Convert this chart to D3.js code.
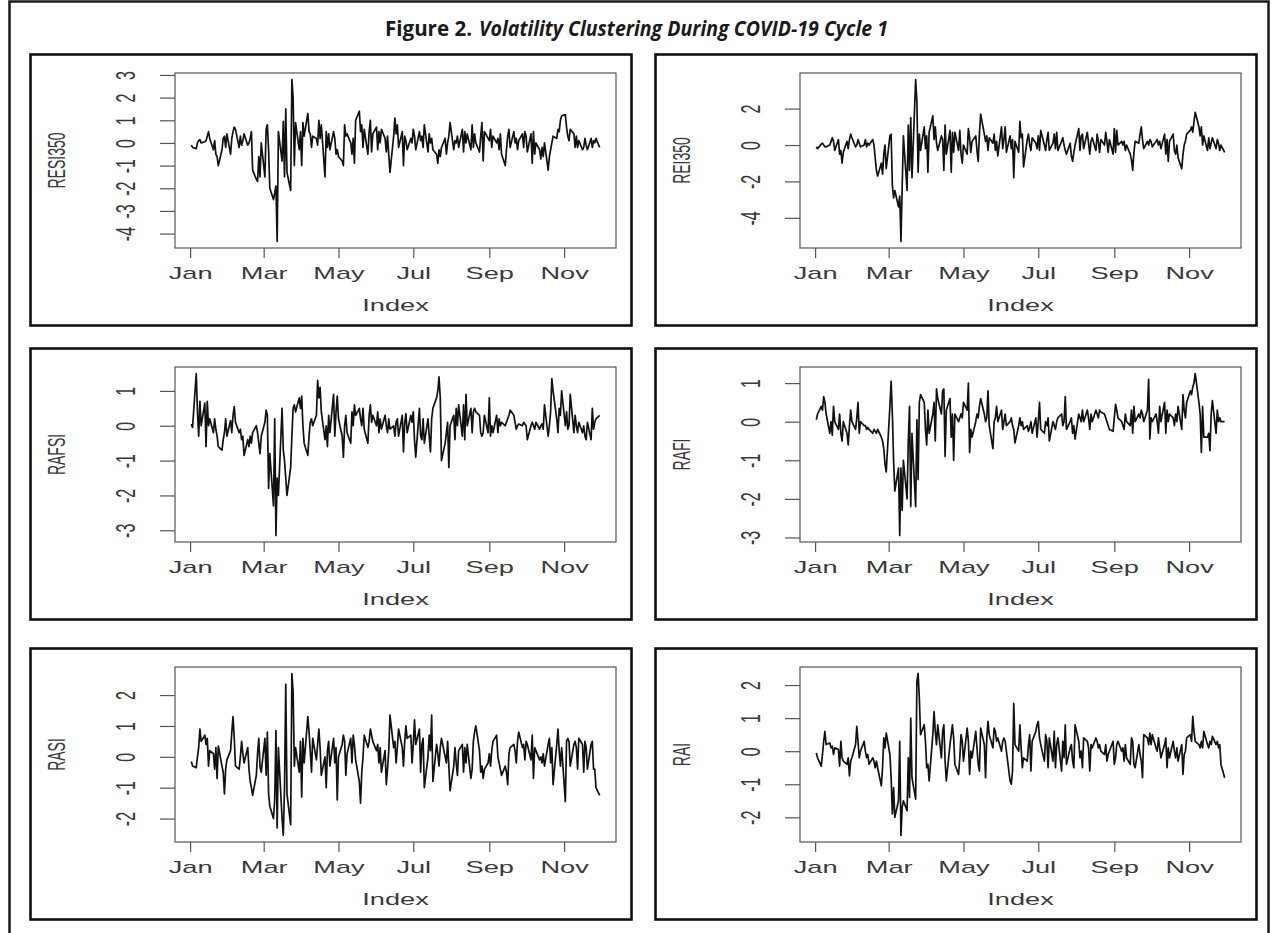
<!DOCTYPE html>
<html>
<head>
<meta charset="utf-8">
<script src="https://cdn.jsdelivr.net/npm/d3@7"></script>
<style>
  body { margin: 0; background: #fff; }
  svg text { font-family: "Liberation Sans", Arial, sans-serif; fill: #3a3a3a; }
</style>
</head>
<body>
<svg id="fig" width="1273" height="933"></svg>
<script>
// figure text
const figureLabel = 'Figure 2.'
const figureTitle = 'Volatility Clustering During COVID-19 Cycle 1'
const seriesNames = ['RESI350', 'REI350', 'RAFSI', 'RAFI', 'RASI', 'RAI']
const monthTicks = ['Jan', 'Mar', 'May', 'Jul', 'Sep', 'Nov']
const firstTradingDay = '2020-01-02'

// y tick labels per panel
const ticksResi350 = [-4, -3, -2, -1, 0, 1, 2, 3]
const ticksRei350 = [-4, -2, 0, 2]
const ticksRafsi = [-3, -2, -1, 0, 1]
const ticksRafi = [-3, -2, -1, 0, 1]
const ticksRasi = [-2, -1, 0, 1, 2]
const ticksRai = [-2, -1, 0, 1, 2]

// daily returns (one value per trading day)
const resi350 = [
  -0.1, -0.2, -0.25, 0.0, 0.1, 0.15, 0.0, 0.05, 0.1, 0.3, 0.5, 0.2, -0.3, 0.1, -0.5, -0.6, -1.0, -0.3, 0.2,
  0.3, -0.2, 0.4, -0.5, 0.2, 0.5, 0.7, 0.6, -0.2, 0.3, -0.1, 0.1, 0.4, -0.1, 0.0, 0.2, 0.5,
  -1.2, -1.6, -1.7, -0.6, -1.5, 0.0, -1.5,
  0.6, 0.8, -0.3,
  -2.0, -2.5, -2.2, -1.9, -4.35,
  0.5, -0.8, 0.95, -1.5, 1.5, -1.3, -2.1, 2.8, 2.0, -1.0,
  0.9, -0.3, 0.5, -1.0, 0.9, 0.3, 1.3, 0.5, 0.4, -0.2, 0.3, 0.2, -0.1, 1.0, 0.2, 0.8, -1.5, 0.5, -0.2, 0.4, -0.3, 0.5, 0.2, -0.5,
  -0.3, -0.6, -0.8, -1.0, 0.8, 0.3, 0.4, 0.0, -0.5, 0.2, -0.9, 1.0, 1.4, 0.5, 0.8, -0.2, 0.6, -0.5, 0.5, 1.0, -0.4, 0.4,
  0.7, -0.3, 0.5, 0.0, 0.6, 0.2, -0.4, 0.3, -0.5, -1.3, 0.3, 1.1, 0.4, 0.8, -0.2, 0.5, -1.0, 0.3, 0.1, -0.3, 0.2, 0.0,
  0.6, 0.3, -0.3, 0.5, 0.1, 0.3, -0.2, 0.8, -0.4, 0.4, 0.0, 0.2, -0.3, -0.5, -0.9, -0.3, -0.6, -0.2, 0.2, -0.5, 0.0, 0.3,
  0.9, -0.3, 0.1, 0.0, 0.3, -0.2, 0.6, -0.4, 0.5, 0.0, 0.4, -0.3, 0.8, -0.2, 0.4, 0.0, -0.4, 0.3, 0.9, -0.8, 0.5, 0.2,
  0.1, 0.6, -0.2, 0.3, 0.0, 0.2, -0.3, 0.4, -0.5, -1.0, -0.3, 0.3, 0.6, -0.2, 0.5, 0.0, 0.2, -0.3, 0.1, 0.4, -0.2, 0.5,
  0.3, -0.4, 0.4, -0.9, 0.5, -0.5, 0.0, -0.3, -0.7, -0.2, -0.6, 0.0, -1.2, -0.6, -0.3, 0.0, 0.3, 0.2, 0.6, 0.5, 1.0, 1.2,
  1.25, 0.7, 0.3, 0.1, 0.6, 0.4, -0.2, 0.3, -0.2, 0.1, -0.3, -0.2, 0.2, -0.1, -0.3, 0.2, -0.2, 0.1, 0.0, 0.2, -0.2
]

const rei350 = [
  -0.1, -0.2, 0.05, 0.1, 0.0, -0.1, -0.1, 0.0, 0.2, 0.4, 0.2, -0.3, 0.3, -0.5, -0.3, -1.0, -0.4, 0.2, -0.2, 0.3,
  0.6, 0.4, -0.1, 0.0, 0.3, 0.1, -0.1, 0.0, 0.3, -0.1, 0.1, 0.0, 0.3, 0.0,
  -0.7, -1.4, -1.7, -1.0, -1.6, -0.5, 0.0, -1.3, 0.5,
  0.6, -2.2, -2.9, -2.5, -3.4, -2.8, -5.3,
  -2.3, 0.5, -2.5, 1.1, -1.4, 1.5, -1.8, 3.6, 2.4, -1.5,
  0.6, -0.3, 1.0, -0.2, 0.5, -1.5, 0.7, 1.6, 0.3, 1.0, 0.1, -0.3, 0.5, 0.3, -1.4, 1.1, -0.5, 0.8, -1.5, 0.7, -0.4, 0.7, -0.3, 0.8, -0.5, -1.0, 0.0, -0.5, 0.9,
  0.4, -0.4, 0.2, 0.5, -0.3, -0.9, 0.6, 1.7, 0.6, 0.2, 0.5, -0.3, 0.4, 0.1, 0.6, -0.3, 0.2, -0.6, 1.0, -0.2, 0.3, 1.0,
  -0.4, 0.5, -0.2, 0.3, -1.8, 0.2, -0.4, 1.3, 0.4, 0.6, -1.2, 0.3, 0.6, 0.0, -0.3, 0.4, 0.1, -0.2, 0.5, -0.3, 0.8, 0.0, -0.3,
  0.3, 0.7, -0.3, 0.1, 0.6, -0.2, 0.7, -0.3, 0.2, 0.4, 0.0, -0.3, -0.5, 0.1, -0.6, -0.9, -0.4, 0.0, 0.9, -0.3, 0.5, 0.6, -0.2,
  0.7, 0.1, -0.5, 0.2, 0.4, -0.3, 0.6, 0.2, -0.4, 0.3, 0.0, 0.7, 0.2, -0.4, 0.3, -0.5, 0.9, -0.4, 0.8, 0.0, 0.2, 0.0,
  0.2, -0.3, 0.0, -0.5, -0.8, -1.4, -0.4, 0.2, 0.1, 0.6, 1.0, 0.3, -0.2, 0.2, 0.0, 0.3, 0.2, -0.1, 0.2, 0.3, 0.0, 0.2, -0.2,
  0.6, -0.5, 0.3, -0.9, 0.2, 0.6, -0.3, -0.5, 0.0, -0.7, -1.3, -0.5, 0.0, 0.2, 0.6, 0.8, 1.0, 0.7, 1.3, 1.8, 1.0, 0.5, 1.0,
  0.0, 0.5, -0.3, 0.4, -0.2, 0.1, 0.4, -0.2, 0.3, 0.1, -0.3, 0.0, -0.4
]

const rafsi = [
  0.05, -0.05, 1.5, 0.4, -0.3, 0.7, 0.0, 0.65, -0.6, 0.7, 0.0, 0.2, -0.2, 0.2, -0.1, -0.3, -0.6, -0.7, -0.4, -0.2, 0.2, -0.3,
  0.15, -0.2, 0.3, 0.55, 0.1, -0.2, -0.1, -0.4, -0.3, -0.85, -0.4, -0.6, -0.3, -0.5, -0.2, 0.0, -0.2, -0.5, -0.8, -0.3, 0.1, 0.45,
  0.3, -1.8, -0.8, -2.3, 0.2, -3.15, -1.5, -2.0, 0.5, -0.7, -1.0, -1.5, -2.0, -1.2,
  -0.3, 0.5, 0.6, 0.4, 0.8, 0.5, 0.85, 0.0, -0.5, -0.85, -0.3, 0.1, 0.2, 0.0, 0.3, 1.3, 0.8, 1.1, 0.4, -0.4, 0.0, -0.6, 0.3, -0.2, 0.9, -0.3, 0.4,
  0.85, 0.2, -0.3, -0.9, 0.0, 0.3, -0.2, -0.5, 0.4, 0.0, 0.6, 0.3, 0.5, 0.2, 0.0, 0.5, -0.1, -0.5, 0.3, 0.6, 0.1, 0.3,
  0.0, 0.4, -0.2, 0.2, -0.1, 0.3, 0.0, -0.2, 0.2, -0.1, 0.0, -0.3, 0.1, 0.2, -0.3, 0.3, -0.75, 0.1, 0.35, -0.2, 0.3, 0.1,
  0.4, -0.4, -0.9, 0.5, -0.3, -0.4, 0.2, -0.5, 0.2, -0.3, -0.75, 0.2, 0.5, 0.8, 1.0, 1.4, 0.8, -1.0, -0.5, -0.2, 0.1, -1.2,
  0.0, 0.3, -0.4, 0.5, 0.0, 0.6, -0.3, 0.6, -0.4, 0.9, 0.0, 0.5, -0.2, 0.4, 0.5, 0.4, 0.3, -0.2, -0.3, -0.2, 0.3, -0.2,
  0.8, -0.3, 0.0, -0.2, 0.3, -0.2, 0.2, 0.0, 0.1, 0.0, 0.1, 0.2, 0.3, 0.45, 0.3, 0.1, -0.1, 0.0, 0.05, 0.0, 0.1, 0.05,
  0.0, -0.4, 0.0, 0.1, 0.0, -0.1, 0.1, -0.1, 0.0, 0.05, -0.1, 0.6, -0.3, 0.0, 0.4, 1.35, 1.0, 0.2, -0.2, 0.5, 0.3, 1.0,
  0.0, 0.4, -0.1, 0.0, 0.9, -0.2, 0.3, 0.0, -0.2, 0.1, -0.2, 0.0, -0.3, -0.4, 0.1, -0.4, 0.5, -0.1, 0.1, 0.2, 0.3
]

const rafi = [
  0.05, 0.2, 0.4, 0.3, 0.65, 0.5, 0.2, -0.3, 0.0, -0.35, 0.4, 0.0, -0.2, 0.2, -0.3, -0.5, 0.0, -0.3, -0.6, -0.1,
  0.3, 0.0, -0.2, 0.1, 0.5, -0.3, 0.0, -0.1, -0.1, -0.2, -0.15, -0.2, -0.3, -0.2, -0.25, -0.3, -0.2, -0.4, -0.5, -0.7, -1.1, -1.3, 0.4,
  1.05, 0.2, -1.0, -1.8, -1.2, -2.95, -1.2, -2.3, -1.0, -2.0, -0.5, 0.4, -2.2, -0.3, -2.2, 0.05, -1.5,
  0.5, 0.7, 0.5, -0.2, -0.6, 0.3, -0.3, 0.2, 0.5, -0.5, 0.85, 0.6, 0.2, 0.8, 0.85, -0.9, 0.3, 0.6, -0.4, 0.2, -1.0, 0.2, 0.0, 0.1, 0.2, 0.1, 0.5,
  0.3, 1.0, -0.8, -0.2, -0.4, 0.0, 0.2, 0.1, 0.4, 0.6, 0.2, 0.0, 0.1, 0.8, -0.1, -0.7, 0.0, 0.1, 0.4, 0.0, 0.3, -0.2, 0.0,
  0.2, -0.1, 0.0, 0.1, -0.1, -0.2, -0.55, -0.1, 0.1, -0.1, 0.0, -0.2, -0.1, -0.25, -0.15, 0.0, -0.3, 0.1, -0.4, 0.0, 0.5, -0.2, -0.3,
  0.0, -0.1, 0.1, -0.5, 0.0, -0.1, -0.2, 0.0, 0.1, 0.2, -0.1, 0.0, 0.65, -0.2, 0.0, 0.1, -0.3, -0.1, -0.45, 0.2, 0.1, 0.0, 0.3,
  0.0, 0.3, 0.1, -0.2, 0.2, 0.0, 0.3, 0.2, 0.1, 0.3, 0.25, 0.2, 0.1, 0.0, -0.1, -0.2, -0.25, 0.1, 0.45, 0.3, 0.1, 0.0, -0.1,
  -0.2, 0.2, 0.0, -0.1, 0.3, -0.3, 0.4, 0.0, 0.2, 0.1, 0.3, 0.2, 0.0, 0.3, 1.1, -0.45, 0.1, 0.0, 0.2, 0.0, -0.3, 0.4, 0.0,
  0.5, -0.3, 0.3, 0.0, 0.2, 0.1, -0.1, 0.2, 0.0, 0.4, -0.2, 0.7, 0.3, 0.1, 0.5, 0.8, 0.7, 0.9, 1.0, 1.25, 0.5, 0.2, -0.8,
  0.4, -0.4, -0.4, -0.3, -0.75, 0.2, 0.55, -0.3, 0.3, 0.0, 0.1, 0.0, 0.0
]

const rasi = [
  -0.15, -0.3, -0.35, 0.0, 0.3, 0.9, 0.5, 0.7, 0.4, 0.6, -0.3, 0.2, 0.1, -0.4, 0.3, -0.7, 0.35, -0.3, -0.5, -1.2,
  -0.4, -0.1, 0.2, 0.8, 1.3, 0.6, -0.3, -0.4, 0.0, 0.5, 0.1, -0.2, 0.3, -0.4, -0.8, -1.0, -1.25, -0.6, 0.1, 0.6, -0.3, -0.5,
  0.6, -0.6, 0.8, -1.2, -1.6, -2.0, -1.4, 0.85, -2.3, 0.3, -2.0, -2.55, -1.0, 2.35, -1.2, -2.2, 2.7, 2.1,
  -0.3, 0.3, -0.5, 0.5, -1.3, 0.6, -0.2, 1.3, 0.8, 0.2, -0.5, 0.6, -0.1, 0.4, 0.9, 0.3, -0.6, 0.0, -1.0, 0.2, 0.5, -0.3, 0.6, -0.2, 0.3, -1.4,
  0.0, 0.4, 0.7, 0.5, -0.6, 0.1, 0.6, -0.2, 0.7, 0.4, -0.1, -0.8, -1.5, -0.5, 0.0, 0.7, 0.3, 0.5, 0.9, 0.7, 0.5, 0.2,
  0.4, -0.2, 0.3, -0.5, 0.2, -0.9, -0.4, 0.2, 1.35, 0.3, 0.5, -0.2, 0.3, 0.9, 0.3, -0.3, 0.5, 1.0, 0.6, 0.7, -0.2, 0.4,
  1.2, 0.4, 0.9, -0.5, 0.4, 0.6, -1.0, 0.0, 0.7, 0.2, 1.35, -0.8, 0.4, 0.1, -0.3, 0.3, 0.6, 0.0, -0.2, 0.5, -0.3, -1.1,
  -0.3, 0.3, -0.2, -0.6, 0.2, 0.4, -0.5, 0.3, -0.2, 0.4, -0.7, -0.4, 0.5, 0.8, 1.0, 0.2, -0.5, -0.3, -0.7, -0.4, -0.2, 0.1,
  -0.3, 0.2, 0.5, 0.7, 0.0, -0.2, -0.4, -0.6, -0.3, -0.5, -0.9, 0.1, 0.3, 0.4, 0.2, -0.2, 0.5, 0.8, 0.3, 0.4, -0.1, 0.5,
  0.4, -0.1, 0.7, -0.7, 0.3, 0.2, -0.1, 0.0, -0.2, 0.1, -0.3, 0.4, 0.6, -0.2, 0.3, -0.9, 0.4, 0.9, 0.2, -0.3, 0.3, -1.45,
  0.5, 0.6, 0.5, -0.3, 0.4, 0.5, 0.3, -0.4, 0.6, 0.4, -0.5, 0.5, 0.3, -0.4, 0.4, 0.5, -0.4, -0.4, -1.0, -1.25
]

const rai = [
  -0.05, -0.2, -0.45, -0.1, 0.3, 0.6, 0.2, 0.25, 0.1, 0.15, -0.1, 0.1, 0.05, -0.45, 0.3, -0.2, -0.3, -0.4, -0.2, -0.75,
  -0.3, -0.2, 0.2, 0.75, 0.3, -0.2, 0.0, 0.3, 0.0, -0.2, -0.1, -0.4, -0.2, -0.3, -0.5, -0.3, -0.5, -1.05, -0.5, 0.4, 0.1, 0.55, -0.1,
  -0.8, -1.9, -1.1, -2.0, -1.5, 0.3, -2.55, -1.7, -1.5, -1.8, -0.2, -1.4, 1.0, -0.8, -1.45, 2.1, 2.35,
  1.6, 0.5, 0.8, 0.3, -0.5, -0.4, -0.9, 0.5, 1.2, 0.6, 0.2, 0.8, -0.2, 0.6, 0.8, -0.3, -0.9, 0.2, 0.5, 0.8, 0.4, -0.4, -0.7, -0.2, 0.5, 0.3, -0.3,
  0.7, 0.3, -0.7, 0.0, -0.2, 0.6, 0.1, -0.4, -0.6, 0.7, 0.2, -0.8, 0.4, 0.9, 0.5, 0.1, 0.7, 0.6, 0.3, 0.4, 0.0, 0.3, 0.4,
  0.3, 0.0, -0.9, -1.0, -0.6, 1.45, 0.2, 0.0, 0.8, 0.1, -0.5, -0.2, -0.3, 0.2, 0.5, -0.6, 0.3, 0.6, 0.8, 0.9, 0.4, 0.2, -0.3,
  0.5, 0.3, -0.5, 0.4, -0.3, 0.6, -0.5, 0.2, 0.4, -0.6, 0.3, -0.2, 0.8, -0.4, 0.1, 0.2, -0.3, -0.5, 0.8, 0.3, -0.2, 0.0, -0.5,
  0.4, 0.3, 0.1, -0.6, 0.2, 0.1, 0.4, 0.3, 0.1, 0.2, 0.0, -0.1, 0.2, -0.3, -0.1, 0.0, 0.3, -0.4, -0.2, 0.2, 0.3, 0.0, 0.1,
  -0.3, 0.2, -0.2, -0.4, 0.4, 0.3, -0.4, -0.5, 0.2, -0.1, -0.3, -0.8, 0.5, 0.4, 0.2, 0.55, 0.2, 0.5, 0.1, 0.0, 0.4, 0.1, -0.2,
  0.2, 0.4, -0.5, 0.1, -0.2, 0.3, 0.0, -0.2, 0.1, -0.3, 0.2, -0.7, -0.1, 0.0, 0.4, 0.5, 0.3, 1.05, 0.6, 0.3, 0.2, 0.1, 0.3,
  0.1, 0.6, 0.2, 0.1, 0.3, 0.2, 0.45, 0.2, 0.3, 0.1, 0.2, -0.4, -0.8
]

const panels = [
  { name: seriesNames[0], values: resi350, ticks: ticksResi350 },
  { name: seriesNames[1], values: rei350, ticks: ticksRei350 },
  { name: seriesNames[2], values: rafsi, ticks: ticksRafsi },
  { name: seriesNames[3], values: rafi, ticks: ticksRafi },
  { name: seriesNames[4], values: rasi, ticks: ticksRasi },
  { name: seriesNames[5], values: rai, ticks: ticksRai }
]

// layout
const colX = [30, 655]
const rowY = [54, 348, 648]
const panelW = 601
const panelH = 271
const plot = { left: 145, right: 586, top: 19, bottom: 194 }
const stretch = 1.7 // the R plots were pasted in stretched sideways

const parseDay = d3.timeParse('%Y-%m-%d')
const monthDates = monthTicks.map(m => d3.timeParse('%b %Y')(`${m} 2020`))

// weekdays from the first trading day, one per value
function tradingDays(n) {
  const start = parseDay(firstTradingDay)
  const days = d3.timeDay.range(start, d3.timeDay.offset(start, n * 2))
    .filter(d => d.getDay() !== 0 && d.getDay() !== 6)
  return days.slice(0, n)
}

const fig = d3.select('#fig')

// outer frame
fig.append('path')
  .attr('d', 'M9.5,945V1.5H1268.5V945')
  .attr('fill', 'none')
  .attr('stroke', '#1a1a1a')
  .attr('stroke-width', 2.5)

const titleFont = '"Liberation Sans Narrow", "Open Sans", sans-serif'
fig.append('text')
  .attr('x', 385)
  .attr('y', 36)
  .attr('textLength', 87)
  .attr('lengthAdjust', 'spacingAndGlyphs')
  .style('font-family', titleFont)
  .style('font-weight', 'bold')
  .style('font-size', '22px')
  .style('fill', '#1a1a1a')
  .text(figureLabel)

fig.append('text')
  .attr('x', 479)
  .attr('y', 36)
  .attr('textLength', 409)
  .attr('lengthAdjust', 'spacingAndGlyphs')
  .style('font-family', titleFont)
  .style('font-weight', 'bold')
  .style('font-style', 'italic')
  .style('font-size', '22px')
  .style('fill', '#1a1a1a')
  .text(figureTitle)

panels.forEach((p, i) => {
  const g = fig.append('g')
    .attr('transform', `translate(${colX[i % 2]},${rowY[Math.floor(i / 2)]})`)

  g.append('rect')
    .attr('x', 0.5)
    .attr('y', 0.5)
    .attr('width', panelW)
    .attr('height', panelH)
    .attr('fill', 'none')
    .attr('stroke', '#111')
    .attr('stroke-width', 2.6)

  const dates = tradingDays(p.values.length)
  // R pads the data range by 4% on each side
  const [d0, d1] = d3.extent(dates)
  const dpad = (d1 - d0) * 0.04
  const x = d3.scaleTime()
    .domain([new Date(+d0 - dpad), new Date(+d1 + dpad)])
    .range([plot.left, plot.right])

  const [v0, v1] = d3.extent(p.values)
  const vpad = (v1 - v0) * 0.04
  const y = d3.scaleLinear()
    .domain([v0 - vpad, v1 + vpad])
    .range([plot.bottom, plot.top])

  const xAxis = g.append('g')
    .attr('transform', `translate(0,${plot.bottom})`)
    .call(d3.axisBottom(x).tickValues(monthDates).tickFormat(d3.timeFormat('%b')).tickSize(10))
  xAxis.select('.domain').remove()
  xAxis.selectAll('line').attr('stroke', '#555').attr('stroke-width', 1.2)
  xAxis.selectAll('text')
    .attr('y', 0)
    .attr('dy', 0)
    .attr('transform', `translate(0,31) scale(${stretch},1)`)
    .style('font-size', '16px')
    .style('fill', '#3a3a3a')

  const yAxis = g.append('g')
    .attr('transform', `translate(${plot.left},0)`)
    .call(d3.axisLeft(y).tickValues(p.ticks).tickFormat(d => String(d)).tickSize(15))
  yAxis.select('.domain').remove()
  yAxis.selectAll('line').attr('stroke', '#555').attr('stroke-width', 1.2)
  yAxis.selectAll('text')
    .attr('x', 0)
    .attr('dy', '0.36em')
    .attr('text-anchor', 'middle')
    .attr('transform', `translate(-50,0) scale(${stretch},1) rotate(-90)`)
    .style('font-size', '16px')
    .style('fill', '#3a3a3a')

  g.append('rect')
    .attr('x', plot.left)
    .attr('y', plot.top)
    .attr('width', plot.right - plot.left)
    .attr('height', plot.bottom - plot.top)
    .attr('fill', 'none')
    .attr('stroke', '#555')
    .attr('stroke-width', 1.2)

  const line = d3.line()
    .x((d, j) => x(dates[j]))
    .y(d => y(d))

  g.append('path')
    .datum(p.values)
    .attr('d', line)
    .attr('fill', 'none')
    .attr('stroke', '#111')
    .attr('stroke-width', 1.7)
    .attr('stroke-linejoin', 'round')

  g.append('text')
    .attr('transform', `translate(${(plot.left + plot.right) / 2},257) scale(${stretch},1)`)
    .attr('text-anchor', 'middle')
    .style('font-size', '16px')
    .text('Index')

  g.append('text')
    .attr('transform', `translate(26,${(plot.top + plot.bottom) / 2}) scale(${stretch},1) rotate(-90)`)
    .attr('dy', '0.36em')
    .attr('text-anchor', 'middle')
    .style('font-size', '14px')
    .text(p.name)
})
</script>
</body>
</html>
